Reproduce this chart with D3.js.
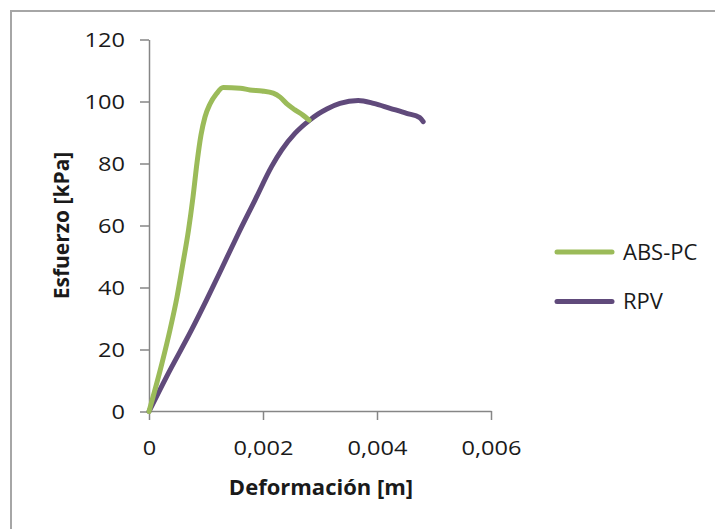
<!DOCTYPE html>
<html>
<head>
<meta charset="utf-8">
<script src="https://cdn.jsdelivr.net/npm/d3@7"></script>
<style>
  body { margin: 0; background: #fff; }
  svg { display: block; }
  text { font-family: 'Open Sans', sans-serif; fill: #1a1a1a; }
</style>
</head>
<body>
<div id="chart"></div>
<script>
// Stress vs deformation
const seriesNames = ['ABS-PC', 'RPV'];

const absPcX = [0, 0.000228, 0.000368, 0.000491, 0.000596, 0.000693, 0.000772, 0.000842, 0.000912, 0.000982, 0.00107, 0.00118, 0.0013, 0.0016, 0.00177, 0.00198, 0.00218, 0.0023, 0.00242, 0.00256, 0.0027, 0.00281];
const absPcY = [0, 15.6, 26.3, 36.9, 47.9, 58.5, 69.2, 80.2, 89.2, 95.0, 99.2, 102.4, 104.5, 104.3, 103.7, 103.4, 102.7, 101.4, 99.2, 97.3, 95.6, 94.0];

const rpvX = [0, 0.000307, 0.000746, 0.00101, 0.00129, 0.00157, 0.00186, 0.00215, 0.00233, 0.00256, 0.00282, 0.00297, 0.00312, 0.00335, 0.00367, 0.00394, 0.00423, 0.00452, 0.00475, 0.00481];
const rpvY = [0, 11.2, 26.3, 36.0, 46.7, 57.5, 68.2, 79.0, 84.4, 89.7, 94.0, 96.0, 97.6, 99.4, 100.3, 99.4, 97.8, 96.2, 94.8, 93.5];

const xTicks = [0, 0.002, 0.004, 0.006];
const yTicks = [0, 20, 40, 60, 80, 100, 120];

const colors = ['#9bbb59', '#604a7b'];

const width = 715;
const height = 529;
const axisColor = '#868686';
const stretch = 1.15; // tick labels in the picture are a bit wide

const svg = d3.select('#chart')
  .append('svg')
  .attr('width', width)
  .attr('height', height);

// Chart frame
svg.append('rect')
  .attr('x', 11)
  .attr('y', 11)
  .attr('width', 800)
  .attr('height', 600)
  .attr('fill', 'none')
  .attr('stroke', '#a6a6a6')
  .attr('stroke-width', 2);

const x = d3.scaleLinear().domain([0, 0.006]).range([149, 491]);
const y = d3.scaleLinear().domain([0, 120]).range([411.5, 39.5]);

// X axis
const xAxis = svg.append('g')
  .attr('transform', 'translate(0, 411)')
  .call(d3.axisBottom(x)
    .tickValues(xTicks)
    .tickSize(9)
    .tickSizeOuter(0)
    .tickFormat(d => d === 0 ? '0' : d.toFixed(3).replace('.', ',')));

xAxis.selectAll('text')
  .attr('y', 29)
  .attr('dy', '0.71em')
  .attr('transform', `scale(${stretch},1)`)
  .style('font-size', '20.5px');

// Y axis
const yAxis = svg.append('g')
  .attr('transform', 'translate(149, 0)')
  .call(d3.axisLeft(y)
    .tickValues(yTicks)
    .tickSize(9)
    .tickSizeOuter(0));

yAxis.selectAll('text')
  .attr('x', -24 / stretch)
  .attr('dy', '0.36em')
  .attr('transform', `scale(${stretch},1)`)
  .style('font-size', '20.5px');

svg.selectAll('.domain, .tick line')
  .attr('stroke', axisColor)
  .attr('stroke-width', 1.5);

// Axis titles
svg.append('text')
  .attr('x', 321)
  .attr('y', 495)
  .attr('text-anchor', 'middle')
  .style('font-size', '22px')
  .style('font-weight', 'bold')
  .text('Deformación [m]');

svg.append('text')
  .attr('transform', 'translate(69, 225.5) rotate(-90)')
  .attr('text-anchor', 'middle')
  .style('font-size', '21px')
  .style('font-weight', 'bold')
  .text('Esfuerzo [kPa]');

// Series lines
const series = [
  absPcX.map((d, i) => [d, absPcY[i]]),
  rpvX.map((d, i) => [d, rpvY[i]])
];

const line = d3.line()
  .x(d => x(d[0]))
  .y(d => y(d[1]))
  .curve(d3.curveMonotoneX);

// RPV first so ABS-PC sits on top where they meet, like the picture
[1, 0].forEach(i => {
  svg.append('path')
    .attr('d', line(series[i]))
    .attr('fill', 'none')
    .attr('stroke', colors[i])
    .attr('stroke-width', 5)
    .attr('stroke-linecap', 'round')
    .attr('stroke-linejoin', 'round');
});

// Legend
const legend = svg.append('g')
  .attr('transform', 'translate(557, 252)');

seriesNames.forEach((name, i) => {
  const item = legend.append('g')
    .attr('transform', `translate(0, ${i * 49.5})`);

  item.append('line')
    .attr('x1', 0)
    .attr('x2', 55)
    .attr('stroke', colors[i])
    .attr('stroke-width', 5)
    .attr('stroke-linecap', 'round');

  item.append('text')
    .attr('x', 66)
    .attr('dy', '0.36em')
    .style('font-size', '22px')
    .text(name);
});
</script>
</body>
</html>
